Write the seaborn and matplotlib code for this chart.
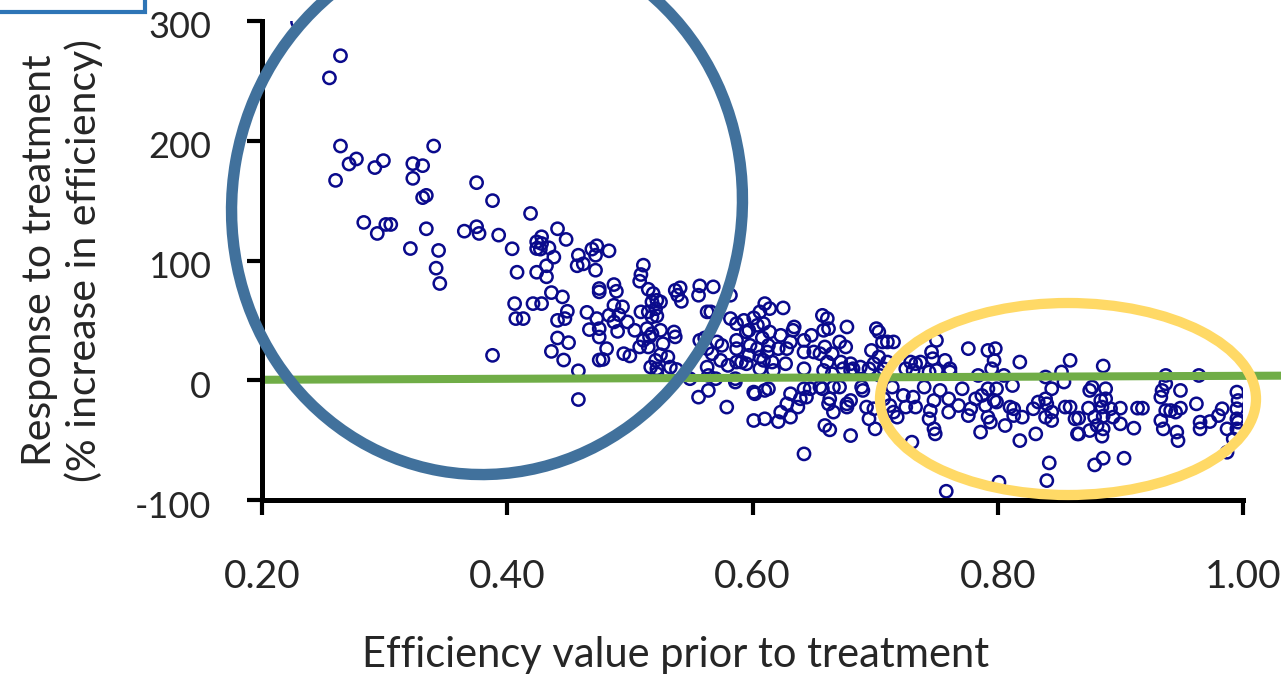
import numpy as np
import pandas as pd
import matplotlib
matplotlib.use("Agg")
import matplotlib.pyplot as plt
import matplotlib.transforms as mtransforms
from matplotlib.patches import Ellipse, Rectangle
import seaborn as sns

# Efficiency before treatment (x) and response in % (y), grouped by efficiency band
eff_low = [0.229, 0.264, 0.255, 0.264, 0.277, 0.271, 0.299, 0.292, 0.260, 0.323,
           0.331, 0.340, 0.323, 0.331, 0.334, 0.375, 0.283, 0.294, 0.301, 0.305,
           0.334, 0.321, 0.344, 0.365, 0.375, 0.377, 0.388, 0.393, 0.342, 0.345,
           0.388]
resp_low = [299.2, 271.0, 252.5, 195.6, 184.8, 180.6, 183.4, 177.6, 166.9, 180.9,
            179.2, 195.6, 168.6, 152.5, 154.4, 165.0, 131.8, 122.6, 130.1, 130.1,
            126.5, 110.0, 108.4, 124.5, 128.2, 122.6, 150.0, 121.2, 93.6, 80.8,
            20.8]

eff_lowmid = [0.419, 0.404, 0.408, 0.441, 0.448, 0.428, 0.424, 0.428, 0.424, 0.427,
              0.434, 0.438, 0.432, 0.424, 0.432, 0.458, 0.462, 0.457, 0.469, 0.473,
              0.472, 0.472, 0.475, 0.475, 0.436, 0.445, 0.406, 0.421, 0.428, 0.407,
              0.413, 0.441, 0.447, 0.449, 0.465, 0.467, 0.473, 0.475, 0.475, 0.441,
              0.450, 0.436, 0.446, 0.458, 0.475, 0.458, 0.483]
resp_lowmid = [139.3, 109.8, 90.2, 126.5, 117.6, 119.8, 115.6, 114.2, 110.0, 109.5,
               110.6, 102.8, 95.6, 90.2, 86.4, 104.4, 97.2, 95.6, 109.5, 112.3,
               104.4, 91.9, 76.6, 73.8, 73.2, 69.6, 64.0, 64.0, 64.0, 51.5,
               51.5, 50.0, 51.5, 57.6, 56.7, 42.3, 51.5, 43.1, 36.1, 35.3,
               31.4, 24.1, 16.9, 7.9, 16.9, -16.1, 108.1]

eff_mid = [0.487, 0.489, 0.511, 0.509, 0.508, 0.515, 0.519, 0.537, 0.541, 0.539,
           0.557, 0.568, 0.556, 0.582, 0.522, 0.518, 0.525, 0.542, 0.487, 0.483,
           0.491, 0.494, 0.487, 0.498, 0.490, 0.481, 0.478, 0.509, 0.515, 0.521,
           0.522, 0.518, 0.504, 0.514, 0.518, 0.525, 0.516, 0.511, 0.508, 0.515,
           0.527, 0.536, 0.537, 0.525, 0.521, 0.495, 0.500, 0.517, 0.522, 0.531,
           0.533, 0.538, 0.522,
           0.582, 0.587, 0.593, 0.601, 0.597, 0.604, 0.563, 0.566, 0.557, 0.561,
           0.571, 0.575, 0.587, 0.595, 0.598, 0.587, 0.597, 0.604, 0.606, 0.563,
           0.567, 0.574, 0.580, 0.587, 0.595, 0.563, 0.564, 0.570, 0.549, 0.556,
           0.564, 0.579, 0.601, 0.601, 0.586, 0.586]
resp_mid = [79.9, 74.3, 96.1, 88.3, 82.7, 76.0, 72.4, 75.1, 77.2, 71.0,
            78.8, 78.0, 71.0, 71.0, 66.8, 65.4, 65.4, 65.9, 62.6, 54.2,
            54.8, 61.3, 48.7, 48.7, 40.8, 26.4, 17.4, 57.1, 57.1, 59.8,
            53.7, 52.9, 41.7, 43.1, 38.9, 41.7, 36.2, 33.3, 27.8, 27.8,
            30.5, 40.3, 36.2, 21.3, 16.6, 22.2, 20.3, 11.0, 9.6, 19.4,
            11.0, 9.0, 5.4,
            51.5, 47.3, 50.0, 52.1, 41.7, 45.9, 57.1, 57.1, 33.3, 35.3,
            32.0, 29.1, 33.3, 40.3, 29.1, 26.4, 20.8, 26.4, 19.4, 26.4,
            22.2, 16.6, 12.4, 15.2, 13.8, 11.0, 4.0, 1.3, 1.3, -14.1,
            -8.5, -22.4, -9.9, -33.6, 1.3, -1.5]

eff_upper = [0.610, 0.614, 0.625, 0.609, 0.608, 0.614, 0.623, 0.631, 0.633, 0.613,
             0.612, 0.621, 0.628, 0.591, 0.609, 0.616, 0.627, 0.606, 0.617, 0.642,
             0.642, 0.648, 0.657, 0.661, 0.658, 0.662, 0.677, 0.671, 0.676, 0.659,
             0.655, 0.665, 0.642, 0.650, 0.661, 0.672, 0.680, 0.680, 0.674, 0.658,
             0.665, 0.701, 0.703, 0.706, 0.697, 0.710, 0.715, 0.703, 0.710, 0.699,
             0.695, 0.688, 0.682, 0.707, 0.704, 0.725, 0.733, 0.731,
             0.602, 0.610, 0.613, 0.631, 0.642, 0.647, 0.639, 0.644, 0.655, 0.657,
             0.666, 0.671, 0.628, 0.623, 0.631, 0.637, 0.610, 0.621, 0.663, 0.662,
             0.666, 0.677, 0.680, 0.677, 0.659, 0.663, 0.680, 0.642, 0.689, 0.690,
             0.693, 0.695, 0.700, 0.699, 0.707, 0.712, 0.715, 0.718, 0.714, 0.723,
             0.731, 0.733, 0.725, 0.730, 0.606, 0.634]
resp_upper = [64.0, 59.8, 60.4, 47.3, 35.3, 40.3, 37.5, 32.0, 41.7, 29.1,
              23.6, 26.4, 26.4, 15.2, 16.6, 15.2, 13.8, 9.6, 8.2, 9.6,
              33.3, 37.5, 54.2, 51.5, 41.7, 43.1, 44.5, 32.0, 27.8, 27.8,
              22.2, 22.2, 23.6, 23.6, 15.2, 15.2, 13.8, 8.2, 9.6, 8.2,
              5.4, 43.1, 40.3, 32.0, 24.9, 32.0, 32.0, 19.4, 15.2, 13.8,
              9.6, 11.0, 9.6, 9.6, 4.0, 9.6, 13.8, 8.2,
              -11.3, -8.5, -7.1, -11.3, -7.1, -7.1, -15.5, -14.1, -5.7, -7.1,
              -5.7, -5.7, -19.7, -26.6, -30.8, -22.4, -32.2, -34.5, -15.5, -19.7,
              -26.6, -19.7, -16.9, -22.4, -37.8, -41.4, -46.2, -61.5, -5.7, -8.5,
              -22.4, -32.2, -40.6, -23.8, -15.5, -21.1, -26.6, -30.8, -5.7, -12.7,
              -14.1, -22.4, -22.4, -51.7, 57.1, 44.5]

eff_high = [0.750, 0.776, 0.792, 0.798, 0.797, 0.795, 0.818, 0.859, 0.729, 0.737,
            0.746, 0.747, 0.757, 0.761, 0.744, 0.750, 0.761, 0.740, 0.753, 0.748,
            0.745, 0.760, 0.771, 0.768, 0.760, 0.778, 0.782, 0.787, 0.790, 0.797,
            0.792, 0.799, 0.799, 0.784, 0.805, 0.812, 0.744, 0.748, 0.749, 0.776,
            0.792, 0.794, 0.786, 0.806, 0.810, 0.813, 0.820, 0.813, 0.818, 0.831,
            0.829, 0.833, 0.839, 0.844, 0.840, 0.844, 0.839, 0.844, 0.855, 0.854,
            0.852, 0.863, 0.865, 0.839, 0.842, 0.840, 0.758, 0.801]
resp_high = [33.3, 26.4, 24.9, 26.4, 16.6, 9.6, 15.2, 16.6, 15.2, 15.2,
             23.6, 18.0, 16.6, 9.6, 6.9, 8.2, 6.9, -5.7, -8.5, -16.9,
             -25.3, -15.5, -7.1, -21.1, -26.6, -23.8, -15.5, -12.7, -21.1, -16.9,
             -7.1, -7.1, -18.2, 4.0, 4.0, -4.4, -32.2, -40.6, -44.8, -29.5,
             -30.8, -35.0, -43.3, -37.8, -22.4, -23.8, -30.8, -29.5, -50.4, -44.8,
             -23.8, -18.2, -15.5, -7.1, -19.7, -26.6, -30.8, -33.6, -22.4, -1.5,
             6.9, -32.2, -44.8, 2.7, -69.0, -83.8, -92.7, -85.2]

eff_top = [0.886, 0.877, 0.875, 0.888, 0.888, 0.884, 0.885, 0.859, 0.874, 0.866,
           0.879, 0.886, 0.892, 0.900, 0.894, 0.881, 0.875, 0.886, 0.885, 0.866,
           0.900, 0.911, 0.914, 0.918, 0.886, 0.879, 0.903, 0.937, 0.937, 0.934,
           0.933, 0.949, 0.937, 0.941, 0.933, 0.935, 0.945, 0.949, 0.946, 0.947,
           0.962, 0.964, 0.965, 0.965, 0.973, 0.980, 0.983, 0.987, 0.995, 0.996,
           0.995, 0.995, 0.996, 0.995, 0.987, 0.992]
resp_top = [11.9, -5.7, -8.5, -7.1, -15.5, -16.9, -22.4, -22.4, -23.3, -31.6,
            -30.8, -30.0, -23.8, -23.3, -30.8, -37.8, -42.0, -40.6, -46.7, -44.8,
            -36.4, -40.0, -23.3, -23.3, -65.1, -70.7, -65.1, 4.0, -2.9, -8.5,
            -14.1, -8.5, -25.3, -25.3, -33.6, -40.6, -26.6, -23.3, -43.3, -50.4,
            -19.7, 4.0, -35.0, -40.6, -34.5, -29.5, -23.8, -40.6, -9.9, -16.9,
            -23.8, -32.2, -35.0, -40.6, -60.1, -49.0]

# Near-flat reference line across the efficiency range
ref_eff = [0.20, 1.05]
ref_resp = [0.4, 3.9]

x_ticks = [0.20, 0.40, 0.60, 0.80, 1.00]
x_tick_labels = ["0.20", "0.40", "0.60", "0.80", "1.00"]
y_ticks = [-100, 0, 100, 200, 300]
y_tick_labels = ["-100", "0", "100", "200", "300"]

x_title = "Efficiency value prior to treatment"
y_title = "Response to treatment\n(% increase in efficiency)"

df = pd.DataFrame({
    "efficiency": eff_low + eff_lowmid + eff_mid + eff_upper + eff_high + eff_top,
    "response": resp_low + resp_lowmid + resp_mid + resp_upper + resp_high + resp_top,
})

sns.set_style("white")
plt.rcParams["font.family"] = ["Lato", "DejaVu Sans"]
plt.rcParams["axes.unicode_minus"] = False

W, H = 1281, 681
fig = plt.figure(figsize=(W / 100, H / 100), dpi=100)
fig.patch.set_facecolor("white")
ax = fig.add_axes([262 / W, 1 - 500 / H, 981 / W, 479 / H])
ax.set_facecolor("none")

sns.scatterplot(data=df, x="efficiency", y="response", ax=ax,
                marker="o", s=78, facecolor="none", edgecolor="#0A0A8C",
                linewidth=1.8, zorder=3, legend=False)

ax.plot(ref_eff, ref_resp, color="#70AD47", lw=5.8, solid_capstyle="butt",
        zorder=4, clip_on=False)

ax.set_xlim(0.2, 1.0)
ax.set_ylim(-100, 300)
ax.set_xticks(x_ticks)
ax.set_xticklabels(x_tick_labels)
ax.set_yticks(y_ticks)
ax.set_yticklabels(y_tick_labels)

for side in ["top", "right"]:
    ax.spines[side].set_visible(False)
for side in ["left", "bottom"]:
    ax.spines[side].set_color("black")
    ax.spines[side].set_linewidth(3.6)
    ax.spines[side].set_zorder(5)

ax.tick_params(axis="both", which="major", direction="out", length=10.5,
               width=3, color="black", bottom=True, left=True)
ax.tick_params(axis="x", labelsize=28, pad=32)
ax.tick_params(axis="y", labelsize=26, pad=26)

shift = mtransforms.ScaledTranslation(0, -0.04, fig.dpi_scale_trans)
for lab in ax.get_yticklabels():
    lab.set_transform(lab.get_transform() + shift)

ax.set_xlabel(x_title, fontsize=30, va="top")
ax.xaxis.set_label_coords((676 - 262) / 981, (500 - 636) / 479)
ax.set_ylabel(y_title, fontsize=29.5, va="center", ha="center", linespacing=1.2)
ax.yaxis.set_label_coords((62 - 262) / 981, (500 - 260) / 479)

# Highlight shapes drawn on a full-figure layer in pixel units
ov = fig.add_axes([0, 0, 1, 1], zorder=10)
ov.set_xlim(0, W)
ov.set_ylim(H, 0)
ov.axis("off")
ov.set_facecolor("none")
ov.add_patch(Ellipse((487, 205), 510, 540, angle=10, fill=False,
                     ec="#41719C", lw=8.2))
ov.add_patch(Ellipse((1068, 399), 376, 192, fill=False,
                     ec="#FFD966", lw=7.4))
ov.add_patch(Rectangle((-20, -40), 165, 52, fill=False,
                       ec="#2E75B6", lw=3))

fig.savefig("out.png", dpi=100, facecolor="white")
